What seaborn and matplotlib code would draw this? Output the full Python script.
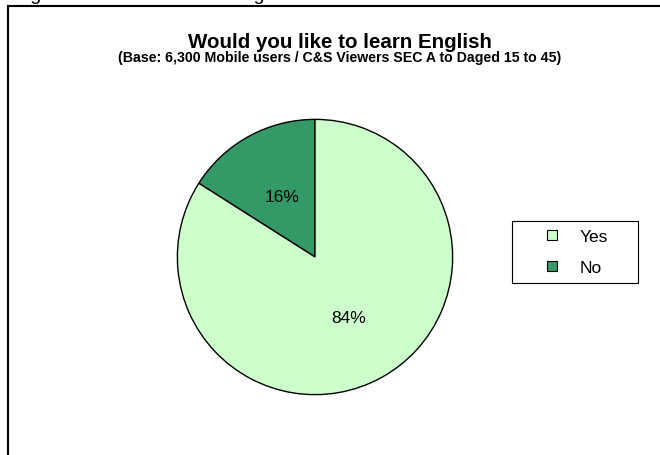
import matplotlib
matplotlib.use("Agg")
import matplotlib.pyplot as plt
from matplotlib.lines import Line2D
from matplotlib.patches import Rectangle
import seaborn as sns

# data
labels = ["No", "Yes"]
shares = [16, 84]
colors = ["#339966", "#CCFFCC"]
legend_order = ["Yes", "No"]

title = "Would you like to learn English"
subtitle = "(Base: 6,300 Mobile users / C&S Viewers SEC A to Daged 15 to 45)"
caption = "Figure 4: Desire to learn English"

sns.set_theme(style="white")
plt.rcParams["font.family"] = ["Liberation Sans", "DejaVu Sans"]
plt.rcParams["text.color"] = "black"

W, H = 660, 456
fig = plt.figure(figsize=(W / 100, H / 100), dpi=100)
fig.patch.set_facecolor("white")

# pie centre (315, 258) px, radius 139 px
cx, cy, r = 315, 258, 139
ax = fig.add_axes([(cx - r) / W, (H - cy - r) / H, 2 * r / W, 2 * r / H])
wedges, texts, autotexts = ax.pie(
    shares, colors=colors, startangle=90, counterclock=True,
    autopct="%d%%", pctdistance=0.5,
    wedgeprops=dict(edgecolor="black", linewidth=1.0),
    textprops=dict(fontsize=12.5, color="black"),
)
ax.set_xlim(-1.01, 1.01)
ax.set_ylim(-1.01, 1.01)
ax.set_aspect("equal")
ax.axis("off")

# chart frame
fig.patches.append(Rectangle((8 / W, -0.1), 1.2, 1 - 7 / H + 0.1,
                             transform=fig.transFigure, fill=False,
                             edgecolor="black", linewidth=1.5))

fig.text(340 / W, 1 - 42 / H, title, ha="center", va="center",
         fontsize=14.8, fontweight="bold", color="black")
fig.text(340 / W, 1 - 58 / H, subtitle, ha="center", va="center",
         fontsize=10.2, fontweight="bold", color="black")
fig.text(14 / W, 1.0, caption, ha="left", va="baseline", fontsize=14)

handles = [Line2D([], [], linestyle="none", marker="s", markersize=7.2,
                  markerfacecolor=colors[labels.index(l)],
                  markeredgecolor="black", markeredgewidth=0.8)
           for l in legend_order]
leg = fig.legend(handles, legend_order, loc="upper left",
                 bbox_to_anchor=(512 / W, 1 - 222 / H, 126 / W, 0.001),
                 mode="expand",
                 fontsize=12.5, frameon=True, fancybox=False, framealpha=1,
                 edgecolor="black", handlelength=3.6, handletextpad=-0.2,
                 borderpad=0.48, labelspacing=0.92, borderaxespad=0)
leg.get_frame().set_linewidth(0.8)
for t in leg.get_texts():
    t.set_color("black")

fig.savefig("out.png", dpi=100)
